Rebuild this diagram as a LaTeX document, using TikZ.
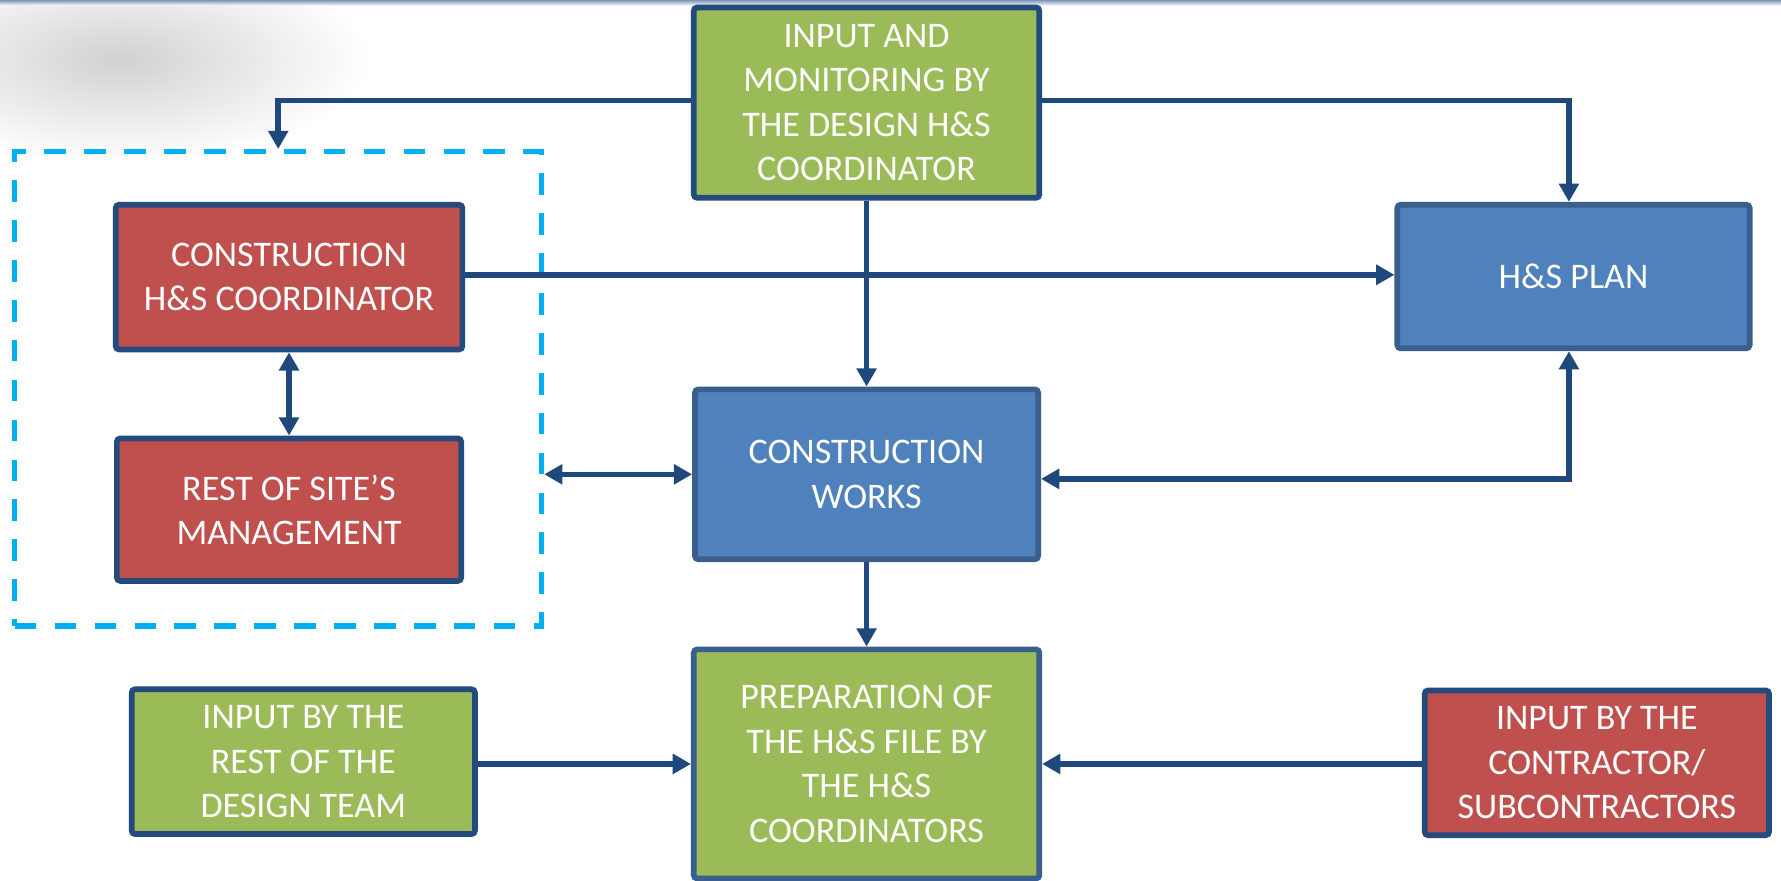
\documentclass[tikz,border=0pt]{standalone}
\usepackage{fontspec}
\setmainfont{Carlito}
\usetikzlibrary{arrows.meta,positioning,calc}
\definecolor{boxgreen}{HTML}{9BBB59}
\definecolor{boxred}{HTML}{C0504D}
\definecolor{boxblue}{HTML}{4F81BD}
\definecolor{navy}{HTML}{234B7E}
\definecolor{blueedge}{HTML}{3A5F8C}
\definecolor{conncol}{HTML}{1F497D}
\definecolor{dashcol}{HTML}{00B0F0}
\definecolor{stripcol}{HTML}{7F95B8}
\tikzset{
  box/.style={draw=navy, line width=2.5pt, rounded corners=1.5pt, text=white,
    align=center, inner sep=0pt, font=\fontsize{15.8}{19.5}\selectfont},
  greenbox/.style={box, fill=boxgreen},
  redbox/.style={box, fill=boxred},
  bluebox/.style={box, fill=boxblue, draw=blueedge},
  dashbox/.style={draw=dashcol, line width=2.3pt, dash pattern=on 9.5pt off 8pt},
  conn/.style={draw=conncol, line width=2.4pt, -{Triangle[length=8pt,width=8.5pt]}},
  dconn/.style={draw=conncol, line width=2.4pt, {Triangle[length=8pt,width=8.5pt]}-{Triangle[length=8pt,width=8.5pt]}}
}
\begin{document}
\begin{tikzpicture}[x=0.5pt,y=-0.5pt]
\useasboundingbox (0,0) rectangle (1562,772);
\fill[white] (0,0) rectangle (1562,772);
% soft gray blob at top-left
\shade[inner color=black!18, outer color=white] (105,52) ellipse [x radius=220, y radius=92];
% top strip
\shade[top color=stripcol, bottom color=white] (0,0) rectangle (1562,5);

% dashed group
\node[dashbox, minimum width=231pt, minimum height=208pt] (grp) at (244,341) {};

% boxes
\node[greenbox, minimum width=151.5pt, minimum height=83.5pt] (TG) at (760,90)
  {INPUT AND\\MONITORING BY\\THE DESIGN H\&S\\COORDINATOR};
\node[redbox, minimum width=152pt, minimum height=63.5pt] (CHC) at (253.5,243)
  {CONSTRUCTION\\H\&S COORDINATOR};
\node[redbox, minimum width=151pt, minimum height=62.5pt] (RSM) at (253.5,447)
  {REST OF SITE’S\\MANAGEMENT};
\node[bluebox, minimum width=154.5pt, minimum height=63pt] (HSP) at (1380,242.5)
  {H\&S PLAN};
\node[bluebox, minimum width=150.5pt, minimum height=74.5pt] (CW) at (760,416)
  {CONSTRUCTION\\WORKS};
\node[greenbox, draw=blueedge, minimum width=151.5pt, minimum height=100.5pt] (PREP) at (760,670)
  {PREPARATION OF\\THE H\&S FILE BY\\THE H\&S\\COORDINATORS};
\node[greenbox, minimum width=150.5pt, minimum height=63.5pt] (IRD) at (266,668)
  {INPUT BY THE\\REST OF THE\\DESIGN TEAM};
\node[redbox, minimum width=151pt, minimum height=63.5pt] (IBC) at (1400.5,669)
  {INPUT BY THE\\CONTRACTOR/\\SUBCONTRACTORS};

% connectors
\draw[conn] (TG.west |- 0,88) -| (grp.north);
\draw[conn] (TG.east |- 0,88) -| (HSP.north -| 1376,0);
\draw[conn] (TG.south) -- (CW.north);
\draw[conn] (CHC.east |- 0,241) -- (HSP.west |- 0,241);
\draw[dconn] (CHC.south) -- (RSM.north);
\draw[dconn] (grp.east |- CW.west) -- (CW.west);
\draw[dconn] (CW.east |- 0,420) -| (HSP.south -| 1376,0);
\draw[conn] (CW.south) -- (PREP.north);
\draw[conn] (IRD.east |- 0,670) -- (PREP.west |- 0,670);
\draw[conn] (IBC.west |- 0,670) -- (PREP.east |- 0,670);
\end{tikzpicture}
\end{document}
